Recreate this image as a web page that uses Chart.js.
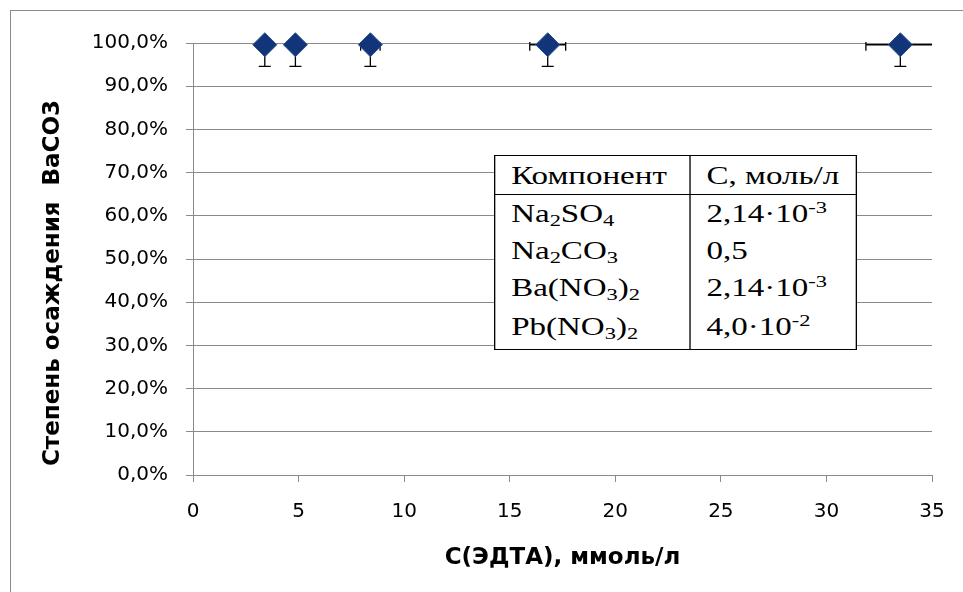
<!DOCTYPE html>
<html>
<head>
<meta charset="utf-8">
<script src="https://cdn.jsdelivr.net/npm/chart.js@4.4.1/dist/chart.umd.min.js"></script>
<style>
  html, body { margin: 0; padding: 0; background: #fff; }
  #wrap { position: relative; width: 963px; height: 592px; overflow: hidden; }
  #frame { position: absolute; left: 10px; top: 10px; width: 1000px; height: 1000px;
           border-left: 1px solid #8a8a8a; border-top: 1px solid #8a8a8a; }
  canvas { position: absolute; left: 0; top: 0; }
  #legendTable { position: absolute; left: 494px; top: 155px; width: 274px;
                 border-collapse: collapse; table-layout: fixed;
                 transform: scaleX(1.32); transform-origin: 0 0;
                 font-family: "Liberation Serif", serif; font-size: 25px; color: #000;
                 background: #fff; line-height: 1; }
  #legendTable td { border-left: 1px solid #000; border-right: 1px solid #000;
                    padding: 0 0 0 12px; white-space: nowrap; height: 37px; vertical-align: middle; }
  #legendTable tr.head td { border-top: 1px solid #000; border-bottom: 1px solid #000; height: 38px; }
  #legendTable tr.last td { border-bottom: 1px solid #000; height: 40px; padding-bottom: 3px; }
  sub { font-size: 0.68em; vertical-align: -0.22em; line-height: 0; }
  sup { font-size: 0.68em; vertical-align: 0.55em; line-height: 0; }
</style>
</head>
<body>
<div id="wrap">
  <div id="frame"></div>
  <canvas id="chart" width="963" height="592"></canvas>
  <table id="legendTable">
    <colgroup><col style="width:148px"><col style="width:126px"></colgroup>
    <tr class="head"><td>Компонент</td><td>С, моль/л</td></tr>
    <tr><td>Na<sub>2</sub>SO<sub>4</sub></td><td>2,14·10<sup>-3</sup></td></tr>
    <tr><td>Na<sub>2</sub>CO<sub>3</sub></td><td>0,5</td></tr>
    <tr><td>Ba(NO<sub>3</sub>)<sub>2</sub></td><td>2,14·10<sup>-3</sup></td></tr>
    <tr class="last"><td>Pb(NO<sub>3</sub>)<sub>2</sub></td><td>4,0·10<sup>-2</sup></td></tr>
  </table>
</div>
<script>
/* данные: концентрация ЭДТА (ммоль/л) и степень осаждения BaCO3 (%) */
var edtaConc = [3.4, 4.85, 8.4, 16.8, 33.5];
var precipitation = [99.6, 99.6, 99.6, 99.6, 99.6];
var edtaErr = [0.17, 0.24, 0.46, 0.85, 1.63];
var precipErr = [5, 5, 5, 5, 5];
var xTicks = [0, 5, 10, 15, 20, 25, 30, 35];
var yTicks = [0, 10, 20, 30, 40, 50, 60, 70, 80, 90, 100];
var yTitle = 'Степень осаждения  BaCO3';
var xTitle = 'С(ЭДТА), ммоль/л';

var AXIS_FONT = '"DejaVu Sans", sans-serif';

/* ---------------------------------------------------------
   Плагин: планки погрешностей по X и Y
   --------------------------------------------------------- */
var errorBarsPlugin = {
  id: 'errorBars',
  beforeDatasetsDraw: function (chart) {
    var ctx = chart.ctx;
    var xs = chart.scales.x;
    var ys = chart.scales.y;
    var area = chart.chartArea;
    var cap = 6;
    ctx.save();
    ctx.beginPath();
    ctx.rect(area.left, area.top - 1, area.right - area.left, area.bottom - area.top + 1);
    ctx.clip();
    ctx.strokeStyle = '#000';
    ctx.lineWidth = 1.3;
    for (var i = 0; i < edtaConc.length; i++) {
      var px = xs.getPixelForValue(edtaConc[i]);
      var py = ys.getPixelForValue(precipitation[i]);
      var yLo = ys.getPixelForValue(precipitation[i] - precipErr[i]);
      var yHi = ys.getPixelForValue(precipitation[i] + precipErr[i]);
      var xLo = xs.getPixelForValue(edtaConc[i] - edtaErr[i]);
      var xHi = xs.getPixelForValue(edtaConc[i] + edtaErr[i]);
      ctx.beginPath();
      ctx.moveTo(px, yHi); ctx.lineTo(px, yLo);
      ctx.moveTo(px - cap, yLo); ctx.lineTo(px + cap, yLo);
      ctx.moveTo(px - cap, yHi); ctx.lineTo(px + cap, yHi);
      ctx.moveTo(xLo, py); ctx.lineTo(xHi, py);
      ctx.moveTo(xLo, py - cap); ctx.lineTo(xLo, py + cap);
      ctx.moveTo(xHi, py - cap); ctx.lineTo(xHi, py + cap);
      ctx.stroke();
    }
    ctx.restore();
  }
};

/* подпись оси Y (сдвинута вниз, как в оригинале) */
var yTitlePlugin = {
  id: 'yTitle',
  afterDraw: function (chart) {
    var ctx = chart.ctx;
    ctx.save();
    ctx.translate(53, 283);
    ctx.rotate(-Math.PI / 2);
    ctx.font = 'bold 23px ' + AXIS_FONT;
    ctx.fillStyle = '#000';
    ctx.textAlign = 'center';
    ctx.textBaseline = 'middle';
    ctx.fillText(yTitle, 0, 0);
    ctx.restore();
  }
};

function initChart() {
  var ctx = document.getElementById('chart');
  var points = edtaConc.map(function (x, i) { return { x: x, y: precipitation[i] }; });

  new Chart(ctx, {
    type: 'scatter',
    data: {
      datasets: [{
        label: 'BaCO3',
        data: points,
        pointStyle: 'rectRot',
        pointRadius: 12,
        pointBackgroundColor: '#12357a',
        pointBorderColor: '#2a4f8e',
        pointBorderWidth: 1,
        clip: false
      }]
    },
    options: {
      responsive: false,
      animation: false,
      events: [],
      layout: { padding: { top: 43, right: 31, left: 0, bottom: 0 } },
      plugins: {
        legend: { display: false },
        tooltip: { enabled: false }
      },
      scales: {
        x: {
          type: 'linear',
          min: 0,
          max: 35,
          afterBuildTicks: function (s) { s.ticks = xTicks.map(function (v) { return { value: v }; }); },
          afterFit: function (s) { s.height = 592 - 475; },
          ticks: { color: '#000', font: { family: AXIS_FONT, size: 20 }, padding: 18 },
          grid: { drawOnChartArea: false, drawTicks: true, tickLength: 7, color: '#8a8a8a' },
          border: { color: '#8a8a8a', width: 1 },
          title: {
            display: true,
            text: xTitle,
            color: '#000',
            font: { family: AXIS_FONT, size: 23, weight: 'bold' },
            padding: { top: 10, bottom: 20 }
          }
        },
        y: {
          type: 'linear',
          min: 0,
          max: 100,
          afterBuildTicks: function (s) { s.ticks = yTicks.map(function (v) { return { value: v }; }); },
          afterFit: function (s) { s.width = 193; },
          ticks: {
            color: '#000',
            font: { family: AXIS_FONT, size: 20 },
            padding: 18,
            callback: function (v) { return v.toFixed(1).replace('.', ',') + '%'; }
          },
          grid: { color: '#8a8a8a', tickLength: 7 },
          border: { color: '#8a8a8a', width: 1 }
        }
      }
    },
    plugins: [errorBarsPlugin, yTitlePlugin]
  });
}

initChart();
</script>
</body>
</html>
